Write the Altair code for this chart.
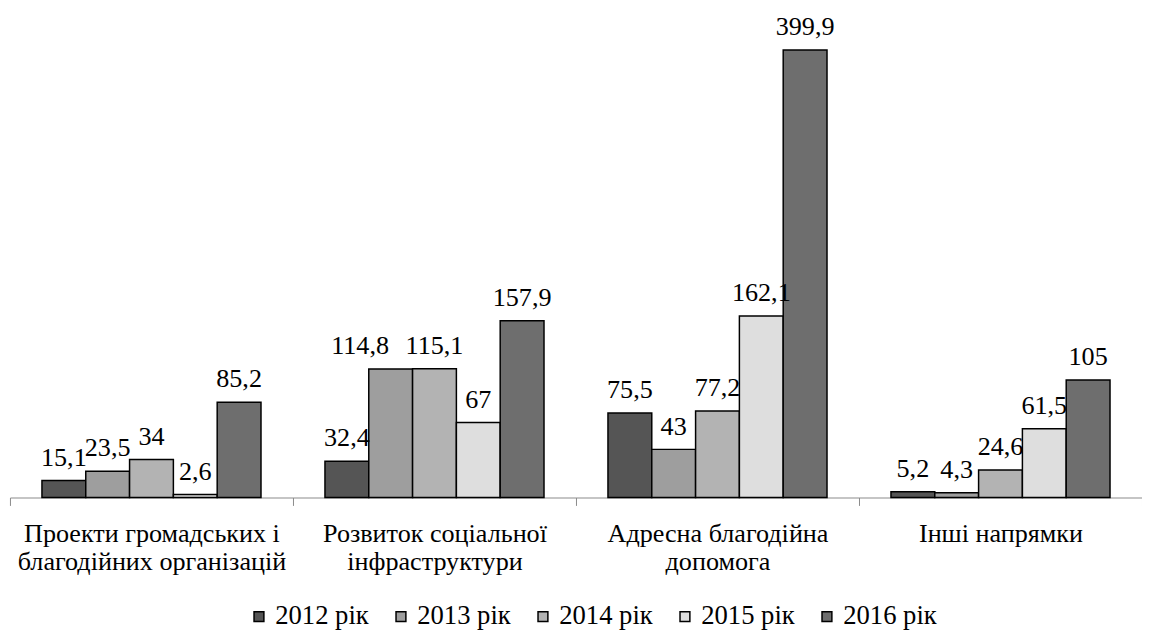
import altair as alt
import pandas as pd

categories = [
    "Проекти громадських і\nблагодійних організацій",
    "Розвиток соціальної\nінфраструктури",
    "Адресна благодійна\nдопомога",
    "Інші напрямки",
]
years = ["2012 рік", "2013 рік", "2014 рік", "2015 рік", "2016 рік"]
v2012 = [15.1, 32.4, 75.5, 5.2]
v2013 = [23.5, 114.8, 43, 4.3]
v2014 = [34, 115.1, 77.2, 24.6]
v2015 = [2.6, 67, 162.1, 61.5]
v2016 = [85.2, 157.9, 399.9, 105]
year_colors = ["#555555", "#9e9e9e", "#b3b3b3", "#dedede", "#6e6e6e"]
# labels that the reference nudges sideways to avoid collisions
shifted_labels = ["114,8"]

series = [v2012, v2013, v2014, v2015, v2016]
rows = []
for yr, vals in zip(years, series):
    for cat, v in zip(categories, vals):
        rows.append({"category": cat, "year": yr, "value": v,
                     "label": f"{v:g}".replace(".", ",")})
df = pd.DataFrame(rows)

FONT = "Liberation Serif"

base = alt.Chart(df).encode(
    x=alt.X("category:N", sort=categories,
            scale=alt.Scale(paddingInner=0, paddingOuter=0),
            axis=alt.Axis(title=None, labelAngle=0,
                          labelExpr="split(datum.label, '\\n')",
                          labelFont=FONT, labelFontSize=26.5, labelColor="black",
                          labelLineHeight=28, labelPadding=16, labelLimit=500,
                          labelOverlap=False,
                          domainColor="#898989", tickColor="#898989",
                          tickSize=8, tickBand="extent")),
    xOffset=alt.XOffset("year:N", sort=years,
                        scale=alt.Scale(paddingInner=0, paddingOuter=0.73)),
    y=alt.Y("value:Q", scale=alt.Scale(domain=[0, 400], nice=False), axis=None),
)

bars = base.mark_bar(stroke="black", strokeWidth=1.5).encode(
    color=alt.Color("year:N", sort=years,
                    scale=alt.Scale(domain=years, range=year_colors),
                    legend=alt.Legend(title=None, orient="none", legendX=239, legendY=561,
                                      direction="horizontal", symbolType="square",
                                      symbolSize=100, symbolStrokeColor="black",
                                      symbolStrokeWidth=1.5, labelFont=FONT,
                                      labelFontSize=27, labelColor="black",
                                      labelOffset=3, columnPadding=19, padding=0))
)

labels = base.mark_text(baseline="alphabetic", dy=-15, font=FONT, fontSize=26.5,
                        color="black").encode(text="label:N").transform_filter(
    ~alt.FieldOneOfPredicate(field="label", oneOf=shifted_labels))

labels_shifted = base.mark_text(baseline="alphabetic", dy=-15, dx=-31, font=FONT,
                                fontSize=26.5, color="black").encode(
    text="label:N").transform_filter(
    alt.FieldOneOfPredicate(field="label", oneOf=shifted_labels))

chart = (bars + labels + labels_shifted).properties(
    width=1148, height=454,
    autosize=alt.AutoSizeParams(type="none"),
    padding={"left": 2, "top": 38, "right": 0, "bottom": 134},
    background="white",
).configure_view(stroke=None)

chart.save("out.html", embed_options={"renderer": "svg", "actions": False})
